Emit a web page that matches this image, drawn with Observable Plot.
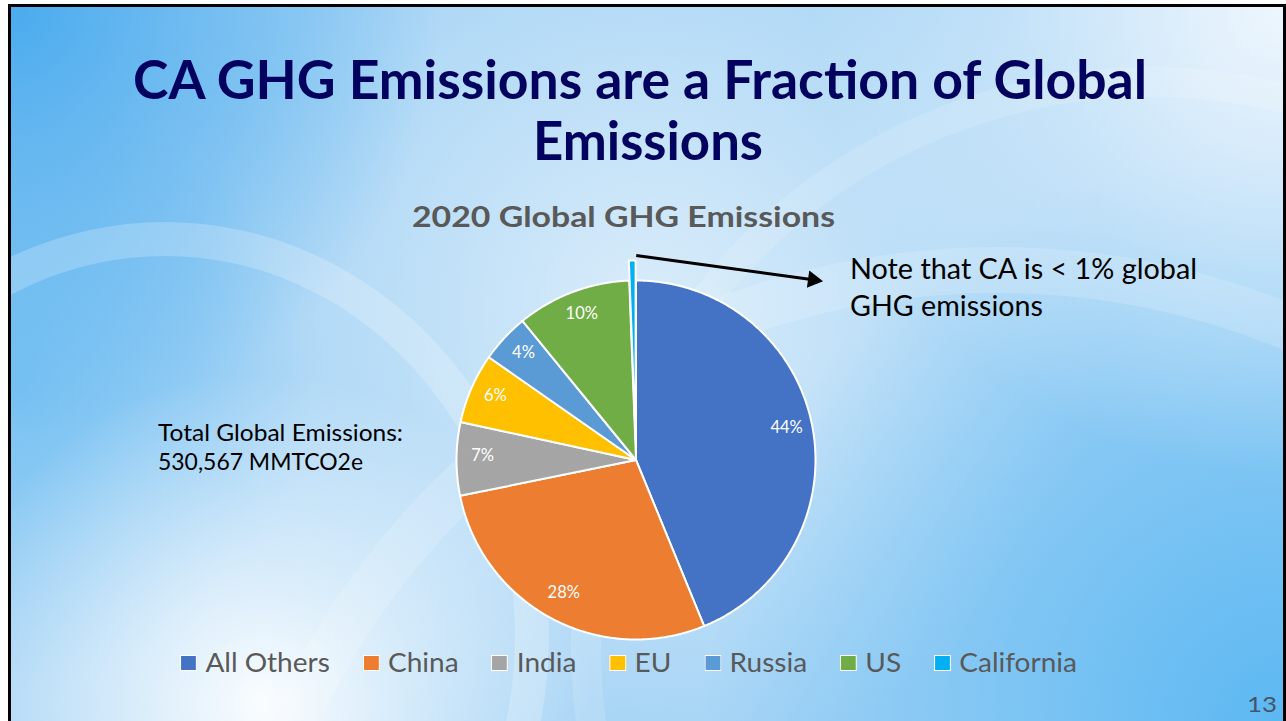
<!DOCTYPE html>
<html>
<head>
<meta charset="utf-8">
<script src="https://cdn.jsdelivr.net/npm/d3@7"></script>
<script src="https://cdn.jsdelivr.net/npm/@observablehq/plot@0.6"></script>
<style>
  html, body { margin: 0; padding: 0; background: #ffffff; width: 1286px; height: 721px; overflow: hidden; }
  #slide {
    position: absolute; left: 8px; top: 4px; width: 1272px; height: 730px;
    border: 3px solid #000; overflow: hidden;
    background:
      radial-gradient(circle at 252px 696px, rgba(255,255,255,0.95) 0, rgba(255,255,255,0) 330px),
      radial-gradient(circle at 0px 0px, #4aabee 0, rgba(74,171,238,0) 430px),
      radial-gradient(circle at 0px 380px, rgba(110,190,242,0.8) 0, rgba(110,190,242,0) 300px),
      radial-gradient(circle at 1272px 0px, #eef6fd 0, rgba(238,246,253,0) 470px),
      radial-gradient(circle at 1272px 717px, #5cb8f2 0, rgba(92,184,242,0) 580px),
      radial-gradient(circle at 640px 300px, #d9ecfa 0, rgba(217,236,250,0) 460px),
      #a4d3f5;
  }
  .ring { position: absolute; border-radius: 50%; border-style: solid; border-color: rgba(255,255,255,0.22); }
  .t { position: absolute; white-space: nowrap; line-height: 1; font-family: Lato, "Open Sans", sans-serif; transform-origin: 0 0; }
  #plotwrap { position: absolute; left: 0; top: 0; width: 1286px; height: 721px; }
  .legend-item { display: inline-flex; align-items: center; }
  .sw { display: inline-block; width: 14px; height: 14px; border: 1.5px solid #fff; box-sizing: content-box; }
</style>
</head>
<body>
<div id="slide">
  <div class="ring" style="left:-230px;top:215px;width:700px;height:760px;border-width:34px;"></div>
  <div class="ring" style="left:190px;top:240px;width:1500px;height:1500px;border-width:46px;border-color:rgba(255,255,255,0.16)"></div>
  <div class="ring" style="left:560px;top:60px;width:1100px;height:1100px;border-width:30px;border-color:rgba(255,255,255,0.14)"></div>
</div>
<div id="plotwrap"></div>
<div id="texts"></div>
<script>
// ---------- data ----------
const categories = ["All Others", "China", "India", "EU", "Russia", "US", "California"];
const shares = [43.8, 28.0, 6.6, 6.3, 4.4, 10.3, 0.6];      // percent of global GHG emissions (2020)
const sliceLabels = ["44%", "28%", "7%", "6%", "4%", "10%", ""];
const palette = ["#4472C4", "#ED7D31", "#A5A5A5", "#FFC000", "#5B9BD5", "#70AD47", "#00B0F0"];
const slideTitle = ["CA GHG Emissions are a Fraction of Global", "Emissions"];
const chartTitle = "2020 Global GHG Emissions";
const totalNote = ["Total Global Emissions:", "530,567 MMTCO2e"];
const caNote = ["Note that CA is < 1% global", "GHG emissions"];
const pageNumber = "13";

// ---------- layout constants ----------
const W = 1286, H = 721;
const cx = 635.5, cy = 459.5, R = 179.5;
const explodeOf = name => name === "California" ? 20 : 0;

// ---------- pie geometry via d3.pie ----------
const arcs = d3.pie().sort(null).value(d => d.share)(
  categories.map((name, i) => ({name, share: shares[i], label: sliceLabels[i]}))
);
const pt = (a, r, ox, oy) => ({x: ox + r * Math.sin(a), y: oy - r * Math.cos(a)});
const slicePts = [];
const labelPts = [];
for (const a of arcs) {
  const mid = (a.startAngle + a.endAngle) / 2;
  const ex = explodeOf(a.data.name);
  const ox = cx + ex * Math.sin(mid), oy = cy - ex * Math.cos(mid);
  slicePts.push({name: a.data.name, x: ox, y: oy});
  const n = Math.max(2, Math.ceil((a.endAngle - a.startAngle) / (Math.PI / 360)));
  for (let k = 0; k <= n; ++k) {
    const ang = a.startAngle + (a.endAngle - a.startAngle) * k / n;
    slicePts.push({name: a.data.name, ...pt(ang, R, ox, oy)});
  }
  if (a.data.label) labelPts.push({label: a.data.label, ...pt(mid, R * 0.855, ox, oy)});
}
const ca = arcs.find(a => a.data.name === "California");
const caMid = (ca.startAngle + ca.endAngle) / 2;
const caTop = pt(caMid, R + explodeOf("California"), cx, cy);
const arrowStart = {x: caTop.x + 4, y: caTop.y - 5};
const arrowTip = {x: 818, y: 280};
const arrowDir = Math.atan2(arrowTip.y - arrowStart.y, arrowTip.x - arrowStart.x);
const headLen = 13;
const arrowData = [{x1: arrowStart.x, y1: arrowStart.y,
  x2: arrowTip.x - headLen * 0.7 * Math.cos(arrowDir), y2: arrowTip.y - headLen * 0.7 * Math.sin(arrowDir)}];
const headData = [{x: arrowTip.x - headLen * 0.42 * Math.cos(arrowDir), y: arrowTip.y - headLen * 0.42 * Math.sin(arrowDir),
  rot: 90 + arrowDir * 180 / Math.PI}];

const chart = Plot.plot({
  width: W, height: H,
  margin: 0,
  x: {domain: [0, W], range: [0, W], axis: null},
  y: {domain: [0, H], range: [0, H], axis: null},
  color: {domain: categories, range: palette},
  style: {background: "transparent", overflow: "visible"},
  marks: [
    Plot.line(slicePts, {x: "x", y: "y", z: "name", fill: "name", stroke: "#ffffff", strokeWidth: 2, curve: "linear-closed", strokeLinejoin: "round"}),
    Plot.text(labelPts, {x: "x", y: "y", text: "label", fill: "#ffffff", fontSize: 16.5, fontFamily: "Lato, sans-serif", dy: -3}),
    Plot.link(arrowData, {x1: "x1", y1: "y1", x2: "x2", y2: "y2", stroke: "#000000", strokeWidth: 3}),
    Plot.dot(headData, {x: "x", y: "y", symbol: "triangle", r: 6.5, rotate: "rot", fill: "#000000", stroke: "none"})
  ]
});
document.getElementById("plotwrap").appendChild(chart);

// ---------- text (HTML) ----------
const texts = document.getElementById("texts");
function addText(str, opts) {
  const el = document.createElement("div");
  el.className = "t";
  el.textContent = str;
  el.style.fontSize = opts.fs + "px";
  el.style.fontWeight = opts.bold ? "700" : "400";
  el.style.color = opts.color;
  el.style.top = (opts.baseline - 0.887 * opts.fs) + "px";
  texts.appendChild(el);
  const w = el.getBoundingClientRect().width;
  const s = opts.width ? opts.width / w : 1;
  el.style.left = opts.left + "px";
  el.style.transform = `scaleX(${s})`;
  return el;
}
addText(slideTitle[0], {fs: 53, bold: true, color: "#03035f", baseline: 99, left: 133, width: 1014});
addText(slideTitle[1], {fs: 53, bold: true, color: "#03035f", baseline: 160, left: 533, width: 230});
addText(chartTitle, {fs: 29, bold: true, color: "#595959", baseline: 227, left: 412, width: 423});
addText(caNote[0], {fs: 28.5, color: "#000000", baseline: 279, left: 850, width: 347});
addText(caNote[1], {fs: 28.5, color: "#000000", baseline: 316, left: 850, width: 193});
addText(totalNote[0], {fs: 23.5, color: "#000000", baseline: 442, left: 158, width: 245});
addText(totalNote[1], {fs: 23.5, color: "#000000", baseline: 471, left: 158, width: 205});
addText(pageNumber, {fs: 22, color: "#44546A", baseline: 713, left: 1247, width: 30});

// legend built from the same categories / palette
const legend = document.createElement("div");
legend.className = "t";
legend.style.fontSize = "26.5px";
legend.style.color = "#595959";
legend.style.top = (673 - 0.887 * 26.5) + "px";
legend.style.left = "180px";
legend.style.display = "flex";
categories.forEach((c, i) => {
  const it = document.createElement("span");
  it.className = "legend-item";
  it.style.marginRight = i < categories.length - 1 ? "31px" : "0";
  const sw = document.createElement("span");
  sw.className = "sw";
  sw.style.background = palette[i];
  sw.style.marginRight = "8px";
  it.appendChild(sw);
  const tx = document.createElement("span");
  tx.textContent = c;
  it.appendChild(tx);
  legend.appendChild(it);
});
texts.appendChild(legend);
const lw = legend.getBoundingClientRect().width;
legend.style.transform = `scaleX(${897 / lw})`;
</script>
</body>
</html>
